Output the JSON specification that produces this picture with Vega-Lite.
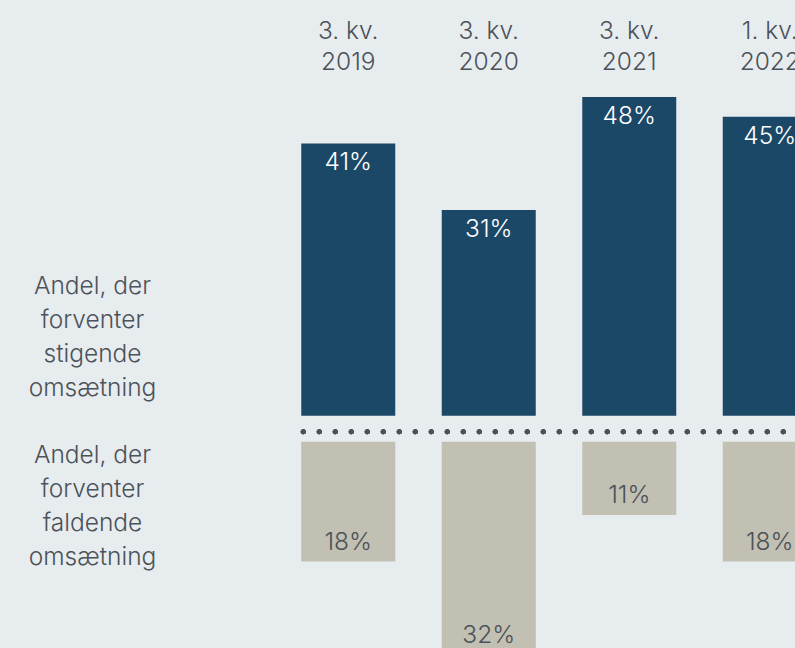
{
  "$schema": "https://vega.github.io/schema/vega-lite/v6.json",
  "width": 517,
  "height": 563,
  "autosize": {"type": "none"},
  "padding": {"left": 278, "top": 85, "right": 0, "bottom": 0},
  "background": "#e7ecef",
  "config": {
    "view": {"stroke": null},
    "font": "Inter",
    "axis": {"labelFont": "Inter", "labelFontSize": 24.5, "labelColor": "#4b5259", "labelFontWeight": 300}
  },
  "data": {
    "values": [
      {"periode": "3. kv. 2019", "stigende": 0.41, "faldende": 0.18},
      {"periode": "3. kv. 2020", "stigende": 0.31, "faldende": 0.32},
      {"periode": "3. kv. 2021", "stigende": 0.48, "faldende": 0.11},
      {"periode": "1. kv. 2022", "stigende": 0.45, "faldende": 0.18}
    ]
  },
  "encoding": {
    "x": {
      "field": "periode",
      "type": "nominal",
      "sort": null,
      "scale": {"range": [0, 562], "paddingInner": 0.331, "paddingOuter": 0.1655},
      "axis": {
        "orient": "top",
        "title": null,
        "ticks": false,
        "domain": false,
        "labelAngle": 0,
        "labelPadding": 54,
        "labelBaseline": "middle",
        "labelLineHeight": 31,
        "labelBound": false,
        "labelOverlap": false,
        "labelExpr": "[slice(datum.label, 0, 6), slice(datum.label, 7)]"
      }
    }
  },
  "layer": [
    {
      "mark": {"type": "bar", "color": "#1c4868", "yOffset": -13, "y2Offset": -13},
      "encoding": {
        "y": {
          "field": "stigende",
          "type": "quantitative",
          "scale": {"domain": [-0.3298, 0.5175], "nice": false, "zero": false},
          "axis": {
            "title": null,
            "ticks": false,
            "domain": false,
            "grid": false,
            "values": [0.2135, -0.0394],
            "labelAlign": "center",
            "labelBaseline": "middle",
            "labelPadding": 186,
            "labelLineHeight": 34,
            "labelOverlap": false,
            "labelExpr": "datum.value > 0 ? ['Andel, der', 'forventer', 'stigende', 'omsætning'] : ['Andel, der', 'forventer', 'faldende', 'omsætning']"
          }
        }
      }
    },
    {
      "mark": {"type": "text", "color": "#ffffff", "fontSize": 24.5, "fontWeight": 300, "baseline": "middle", "yOffset": 7},
      "encoding": {
        "y": {
          "field": "stigende",
          "type": "quantitative",
          "scale": {"domain": [-0.3298, 0.5175], "nice": false, "zero": false},
          "axis": null
        },
        "text": {"field": "stigende", "type": "quantitative", "format": ".0%"}
      }
    },
    {
      "mark": {"type": "bar", "color": "#c2bfb3", "yOffset": 13, "y2Offset": 13},
      "encoding": {
        "y": {
          "field": "faldende",
          "type": "quantitative",
          "scale": {"domain": [-0.5175, 0.3298], "nice": false, "zero": false, "reverse": true},
          "axis": null
        }
      }
    },
    {
      "mark": {"type": "text", "color": "#4b5259", "fontSize": 24.5, "fontWeight": 300, "baseline": "middle", "yOffset": -5.5},
      "encoding": {
        "y": {
          "field": "faldende",
          "type": "quantitative",
          "scale": {"domain": [-0.5175, 0.3298], "nice": false, "zero": false, "reverse": true},
          "axis": null
        },
        "text": {"field": "faldende", "type": "quantitative", "format": ".0%"}
      }
    },
    {
      "mark": {"type": "rule", "color": "#4b5259", "strokeWidth": 5, "strokeCap": "round", "strokeDash": [0, 16], "strokeDashOffset": -2, "yOffset": 3},
      "encoding": {
        "x": {"datum": "3. kv. 2019", "bandPosition": 0},
        "x2": {"datum": "1. kv. 2022", "bandPosition": 1},
        "y": {
          "datum": 0,
          "type": "quantitative",
          "scale": {"domain": [-0.3298, 0.5175], "nice": false, "zero": false},
          "axis": null
        }
      }
    }
  ],
  "resolve": {"scale": {"y": "independent"}}
}
